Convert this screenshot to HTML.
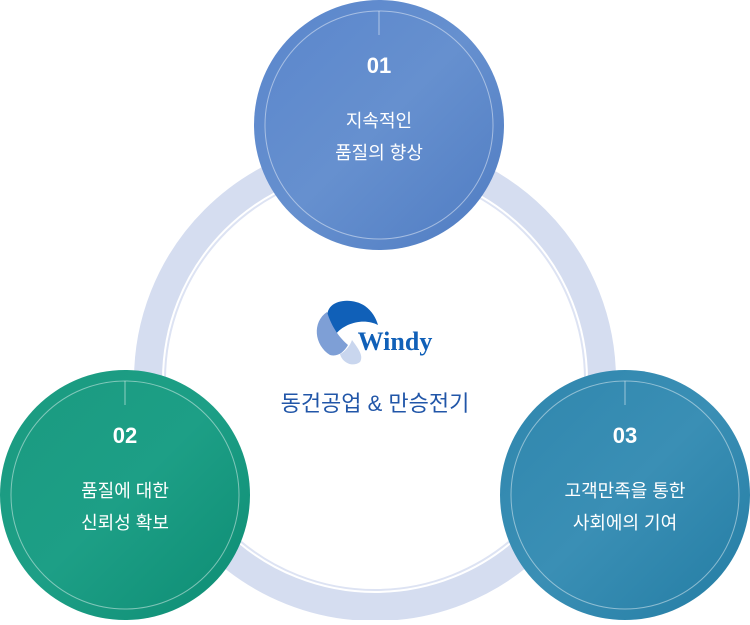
<!DOCTYPE html>
<html><head><meta charset="utf-8"><style>
body{margin:0;width:750px;height:620px;background:#fff;overflow:hidden;font-family:"Liberation Sans","Noto Sans CJK KR",sans-serif}
</style></head><body>
<svg width="750" height="620" viewBox="0 0 750 620">
<defs>
<linearGradient id="gb" x1="0" y1="0" x2="1" y2="1"><stop offset="0" stop-color="#5a86cc"/><stop offset="0.5" stop-color="#6690cf"/><stop offset="1" stop-color="#4f7cc2"/></linearGradient>
<linearGradient id="gg" x1="0" y1="0" x2="1" y2="1"><stop offset="0" stop-color="#1a9a80"/><stop offset="0.5" stop-color="#1d9f86"/><stop offset="1" stop-color="#0d8c73"/></linearGradient>
<linearGradient id="gt" x1="0" y1="0" x2="1" y2="1"><stop offset="0" stop-color="#2f86ad"/><stop offset="0.5" stop-color="#3a8fb5"/><stop offset="1" stop-color="#237ca3"/></linearGradient>
</defs>
<circle cx="375" cy="380" r="227" fill="none" stroke="#d5ddf0" stroke-width="28"/>
<circle cx="375" cy="380" r="210" fill="none" stroke="#dde3f3" stroke-width="2"/>
<g>
<circle cx="379" cy="125" r="125" fill="url(#gb)"/>
<circle cx="379" cy="125" r="114" fill="none" stroke="#ffffff" stroke-opacity="0.45" stroke-width="1"/>
<line x1="379" y1="11" x2="379" y2="35" stroke="#fff" stroke-opacity="0.5"/>
<text x="379" y="73" fill="#fff" font-size="22" font-weight="bold" text-anchor="middle">01</text>
<text x="379" y="127" fill="#fff" font-size="18" text-anchor="middle">지속적인</text>
<text x="379" y="159" fill="#fff" font-size="18" text-anchor="middle">품질의 향상</text>
</g>
<g>
<circle cx="125" cy="495" r="125" fill="url(#gg)"/>
<circle cx="125" cy="495" r="114" fill="none" stroke="#ffffff" stroke-opacity="0.45" stroke-width="1"/>
<line x1="125" y1="381" x2="125" y2="405" stroke="#fff" stroke-opacity="0.5"/>
<text x="125" y="443" fill="#fff" font-size="22" font-weight="bold" text-anchor="middle">02</text>
<text x="125" y="497" fill="#fff" font-size="18" text-anchor="middle">품질에 대한</text>
<text x="125" y="529" fill="#fff" font-size="18" text-anchor="middle">신뢰성 확보</text>
</g>
<g>
<circle cx="625" cy="495" r="125" fill="url(#gt)"/>
<circle cx="625" cy="495" r="114" fill="none" stroke="#ffffff" stroke-opacity="0.45" stroke-width="1"/>
<line x1="625" y1="381" x2="625" y2="405" stroke="#fff" stroke-opacity="0.5"/>
<text x="625" y="443" fill="#fff" font-size="22" font-weight="bold" text-anchor="middle">03</text>
<text x="625" y="497" fill="#fff" font-size="18" text-anchor="middle">고객만족을 통한</text>
<text x="625" y="529" fill="#fff" font-size="18" text-anchor="middle">사회에의 기여</text>
</g>
<g>
<path d="M328 322 C322 300 350 296 365 306 C372 311 376 318 378 325 C365 318 345 322 335 335 Z" fill="#1060b8"/>
<path d="M327 312 C312 322 314 345 330 355 C338 357 344 352 348 345 C340 338 332 328 327 312 Z" fill="#7e9fd6"/>
<path d="M352 340 C358 348 364 356 360 362 C352 368 342 362 340 354 C345 352 350 346 352 340 Z" fill="#c9d6ee"/>
<text x="395" y="350" fill="#1060b8" font-size="26" font-weight="bold" font-family="Liberation Serif,serif" text-anchor="middle">Windy</text>
</g>
<text x="375" y="411" fill="#2156a8" font-size="22" text-anchor="middle">동건공업 &amp; 만승전기</text>
</svg>
</body></html>
